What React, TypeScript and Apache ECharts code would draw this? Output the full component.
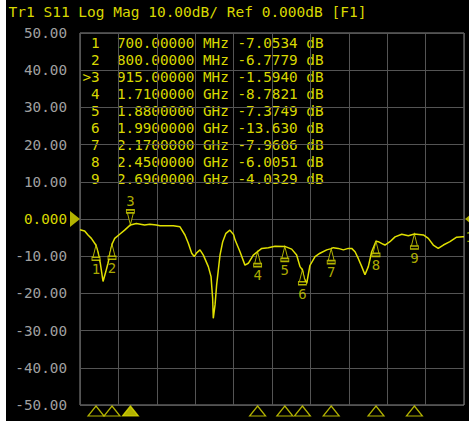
import React, { useEffect, useRef } from "react";
import * as echarts from "echarts";

// Trace: frequency (MHz) and S11 (dB)
const traceFreq = [600, 629, 650, 671, 700, 712, 727, 744, 761, 775, 800, 817, 848, 879, 915, 952, 1004, 1036, 1077, 1100, 1183, 1225, 1256, 1277, 1298, 1314, 1329, 1350, 1371, 1402, 1419, 1429, 1433, 1444, 1454, 1475, 1492, 1512, 1537, 1560, 1569, 1600, 1631, 1652, 1683, 1710, 1736, 1777, 1819, 1880, 1923, 1954, 1975, 1990, 2000, 2017, 2037, 2069, 2100, 2142, 2170, 2183, 2214, 2246, 2277, 2298, 2319, 2339, 2361, 2381, 2402, 2423, 2450, 2464, 2496, 2506, 2537, 2569, 2611, 2652, 2690, 2746, 2777, 2808, 2839, 2871, 2912, 2954, 2992, 3000];
const traceDb = [-2.9, -3.2, -4.3, -5.2, -7.05, -8.8, -11.9, -16.8, -14.2, -11.9, -6.8, -5.2, -4.1, -3.0, -1.59, -1.2, -1.6, -1.4, -1.6, -1.8, -1.8, -2.1, -4.3, -6.5, -9.2, -10.1, -9.1, -8.3, -9.7, -12.8, -15.5, -21.3, -26.7, -23.1, -17.7, -9.7, -6.1, -3.85, -3.0, -4.2, -5.6, -8.8, -12.4, -11.9, -9.7, -8.78, -7.9, -7.7, -7.3, -7.37, -8.1, -9.7, -12.8, -13.63, -15.9, -17.3, -12.5, -10.1, -9.2, -8.3, -7.96, -7.7, -7.9, -8.3, -7.9, -7.9, -8.8, -10.6, -12.8, -15.0, -12.8, -8.8, -6.0, -6.1, -6.8, -7.0, -6.1, -4.8, -4.1, -4.5, -4.03, -4.3, -5.2, -7.0, -7.9, -7.0, -6.1, -4.9, -4.8, -4.8];

// Markers
const markerNums = [1, 2, 3, 4, 5, 6, 7, 8, 9];
const markerFreq = [700, 800, 915, 1710, 1880, 1990, 2170, 2450, 2690];
const markerDb = [-7.0534, -6.7779, -1.594, -8.7821, -7.3749, -13.63, -7.9606, -6.0051, -4.0329];
const activeMarker = 3;

// Axes
const freqStart = 600;
const freqStop = 3000;
const yTicks = [-50, -40, -30, -20, -10, 0, 10, 20, 30, 40, 50];
const headerText = "Tr1 S11 Log Mag 10.00dB/ Ref 0.000dB [F1]";

const YEL = "#e0e000";
const TXT = "#d8d800";
const GRAY = "#a0a0a0";
const MONO = "'DejaVu Sans Mono', 'Liberation Mono', monospace";

const UP_MARK = "path://M4,0 L7,12 L1,12 Z M0,12 L8,12 L8,15 L0,15 Z";
const DOWN_MARK = "path://M0,0 L8,0 L8,3 L0,3 Z M1,3 L7,3 L4,15 Z";

function fmtFreq(f: number): string {
  return f < 1000 ? f.toFixed(5) + " MHz" : (f / 1000).toFixed(7) + " GHz";
}

export default function App() {
  const ref = useRef<HTMLDivElement>(null);
  useEffect(() => {
    if (!ref.current) return;
    const chart = echarts.init(ref.current, null, { renderer: "svg" });

    const rows = markerNums.map((n, i) => {
      const prefix = n === activeMarker ? ">" + n : " " + n;
      return prefix + "  " + fmtFreq(markerFreq[i]) + " " + markerDb[i].toPrecision(5) + " dB";
    });

    const traceData = traceFreq.map((f, i) => [f, traceDb[i]]);
    const lastIdx = traceFreq.length - 1;

    const onTrace = markerNums.map((n, i) => ({
      value: [markerFreq[i], markerDb[i]],
      symbol: n === activeMarker ? DOWN_MARK : UP_MARK,
      symbolOffset: n === activeMarker ? [0, -7.5] : [0, 7.5],
      label: {
        show: true,
        position: n === activeMarker ? "top" : "bottom",
        distance: 1,
        formatter: String(n),
      },
    }));

    const bottomMarks = markerNums.map((n, i) => ({
      value: [markerFreq[i], yTicks[0]],
      itemStyle: n === activeMarker ? { color: YEL } : { color: "#000" },
    }));

    chart.setOption({
      animation: false,
      backgroundColor: "#000",
      grid: {
        left: 74,
        right: 5,
        top: 33,
        bottom: 16,
        show: true,
        borderColor: "#8a8a8a",
        borderWidth: 1,
        backgroundColor: "transparent",
      },
      xAxis: [
        { type: "value", min: freqStart, max: freqStop, show: false },
        {
          type: "value",
          min: 0,
          max: 10,
          interval: 1,
          axisLine: { show: false },
          axisTick: { show: false },
          axisLabel: { show: false },
          splitLine: { show: true, lineStyle: { color: "#545454", width: 1 } },
        },
      ],
      yAxis: {
        type: "value",
        min: yTicks[0],
        max: yTicks[yTicks.length - 1],
        interval: 10,
        axisLine: { show: false },
        axisTick: { show: false },
        splitLine: { show: true, lineStyle: { color: "#545454", width: 1 } },
        axisLabel: {
          margin: 13,
          fontFamily: MONO,
          fontSize: 14.3,
          color: (v: any) => (Number(v) === 0 ? TXT : GRAY),
          formatter: (v: number) => (v === 0 ? "0.000" : v.toFixed(2)),
        },
      },
      graphic: [
        {
          type: "text",
          x: 2.5,
          y: 4,
          style: { text: headerText, fill: TXT, font: `14.5px ${MONO}`, verticalAlign: "top" },
        },
        {
          type: "text",
          x: 76.5,
          y: 35,
          style: {
            text: rows.join("\n"),
            fill: TXT,
            font: `14.3px ${MONO}`,
            lineHeight: 16.9,
            verticalAlign: "top",
          },
        },
      ],
      series: [
        {
          type: "line",
          data: traceData,
          showSymbol: false,
          lineStyle: { color: YEL, width: 1.5 },
          z: 2,
        },
        {
          type: "scatter",
          data: onTrace,
          symbolSize: [8, 15],
          itemStyle: { color: "#000", borderColor: YEL, borderWidth: 1.2 },
          label: { color: TXT, fontFamily: MONO, fontSize: 14 },
          clip: false,
          z: 3,
        },
        {
          type: "scatter",
          data: bottomMarks,
          symbol: "triangle",
          symbolSize: [16, 10],
          symbolOffset: [0, 6],
          itemStyle: { borderColor: YEL, borderWidth: 1.2 },
          clip: false,
          z: 3,
        },
        {
          type: "scatter",
          data: [
            { value: [freqStart, 0], symbolRotate: -90, symbolOffset: [-5, 0] },
            { value: [freqStop, 0], symbolRotate: 90, symbolOffset: [6, 0] },
          ],
          symbol: "triangle",
          symbolSize: [16, 10],
          itemStyle: { color: YEL },
          clip: false,
          z: 3,
        },
        {
          type: "scatter",
          data: [traceData[lastIdx]],
          symbol: "circle",
          symbolSize: 1,
          itemStyle: { color: "rgba(0,0,0,0)" },
          label: {
            show: true,
            position: "right",
            distance: 1,
            formatter: "1",
            color: TXT,
            fontFamily: MONO,
            fontSize: 14,
          },
          clip: false,
          z: 3,
        },
      ],
    });
    return () => chart.dispose();
  }, []);

  return (
    <div style={{ position: "fixed", left: 0, top: 0, width: 469, height: 421, background: "#fff" }}>
      <div ref={ref} style={{ position: "absolute", left: 6, top: 0, width: 463, height: 421 }} />
    </div>
  );
}
